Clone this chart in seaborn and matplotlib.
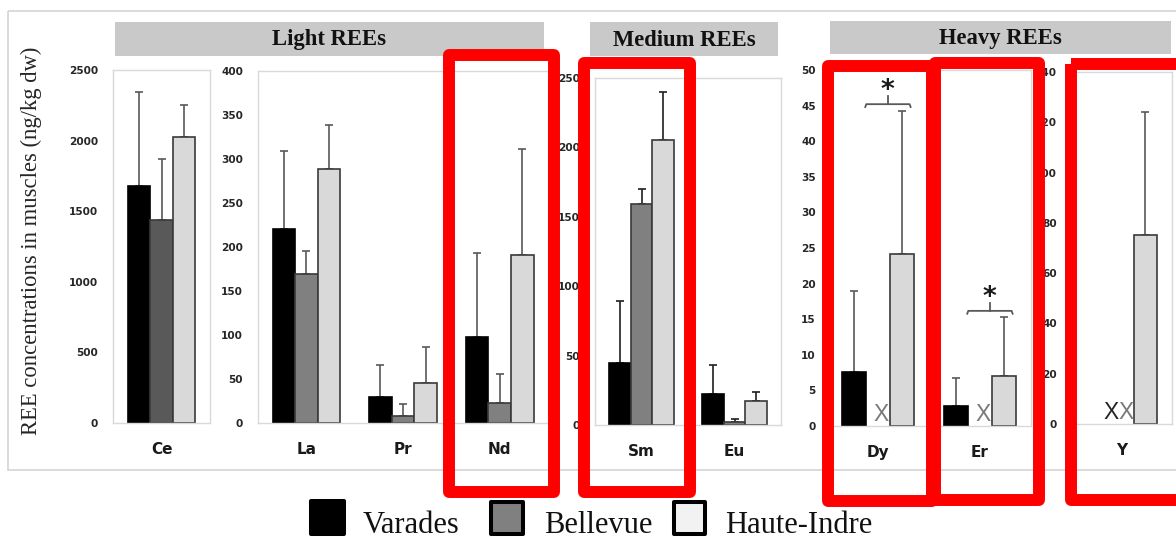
import numpy as np
import pandas as pd
import matplotlib
matplotlib.use("Agg")
import matplotlib.pyplot as plt
import seaborn as sns
from matplotlib.patches import Rectangle

# ---------------- data ----------------
sites = ["Varades", "Bellevue", "Haute-Indre"]
elements = ["Ce", "La", "Pr", "Nd", "Sm", "Eu", "Dy", "Er", "Y"]

varades_mean = [1676, 220, 29, 98, 45, 22, 7.6, 2.75, np.nan]
bellevue_mean = [1436, 169, 8, 23, 159, 2, np.nan, np.nan, np.nan]
haute_mean = [2027, 289, 46, 191, 205, 17, 24.2, 7.07, 75]

varades_sd = [671, 89, 37, 95, 44, 21.5, 11.4, 3.95, np.nan]
bellevue_sd = [431, 27, 14, 33, 11, 2.2, np.nan, np.nan, np.nan]
haute_sd = [226, 50, 40, 120, 35, 7, 20.1, 8.2, 49]

group_names = ["Light REEs", "Medium REEs", "Heavy REEs"]
panel_elements = [["Ce"], ["La", "Pr", "Nd"], ["Sm", "Eu"], ["Dy", "Er"], ["Y"]]
panel_ymax = [2500, 400, 250, 50, 140]
panel_step = [500, 50, 50, 5, 20]
significant = ["Dy", "Er"]
missing_marker = {"Dy": ["Bellevue"], "Er": ["Bellevue"], "Y": ["Varades", "Bellevue"]}

rows = []
for i, el in enumerate(elements):
    for s, m, sd in zip(sites, [varades_mean, bellevue_mean, haute_mean],
                        [varades_sd, bellevue_sd, haute_sd]):
        rows.append(dict(element=el, site=s, value=m[i], sd=sd[i]))
df = pd.DataFrame(rows)

# ---------------- layout ----------------
W, H = 1176, 538
fig = plt.figure(figsize=(W / 100, H / 100), dpi=100)
fig.patch.set_facecolor("white")

def px_rect(x0, y0, x1, y1):
    return [x0 / W, 1 - y1 / H, (x1 - x0) / W, (y1 - y0) / H]

panel_rects = [(113, 70, 210, 423), (258, 71, 548, 423), (595, 78, 781, 425),
               (827, 70, 1031, 426), (1072, 72, 1172, 424)]
panel_ypad = [10.8, 10.8, 10.8, 8.0, 10.8]
panel_ecolor = ["#595959", "#595959", "#1f1f1f", "#595959", "#595959"]

face = {"Varades": "#000000", "Bellevue": "#808080", "Haute-Indre": "#d9d9d9"}
edge = {"Varades": "#000000", "Bellevue": "#3a3a3a", "Haute-Indre": "#3a3a3a"}
marker_col = {"Varades": "#262626", "Bellevue": "#7a7a7a"}
GW = 0.7
bw = GW / 3

axes = []
for k, els in enumerate(panel_elements):
    ax = fig.add_axes(px_rect(*panel_rects[k]))
    axes.append(ax)
    sub = df[df.element.isin(els)].dropna(subset=["value"])
    pal = dict(face)
    if k == 0:
        pal["Bellevue"] = "#595959"
    sns.barplot(data=sub, x="element", y="value", hue="site", order=els,
                hue_order=sites, palette=pal, saturation=1, width=GW,
                dodge=True, errorbar=None, legend=False, ax=ax, linewidth=1.2,
                edgecolor="#3a3a3a")
    xs, ys, es = [], [], []
    for p in list(ax.patches):
        cx = p.get_x() + p.get_width() / 2
        h = p.get_height()
        if not np.isfinite(h):
            continue
        ci = int(round(cx))
        hi = int(round((cx - ci) / bw)) + 1
        site = sites[hi]
        p.set_edgecolor(edge[site])
        p.set_zorder(2)
        row = sub[(sub.element == els[ci]) & (sub.site == site)]
        if len(row):
            xs.append(cx)
            ys.append(h)
            es.append(float(row.sd.iloc[0]))
    ax.errorbar(xs, ys, yerr=[np.zeros(len(es)), es], fmt="none",
                ecolor=panel_ecolor[k], elinewidth=1.2, capsize=2.6,
                capthick=1.2, zorder=1)
    ax.set_xlim(-0.5, len(els) - 0.5)
    ax.set_ylim(0, panel_ymax[k])
    ticks = np.arange(0, panel_ymax[k] + 1, panel_step[k])
    ax.set_yticks(ticks)
    ax.set_yticklabels([str(v) for v in ticks])
    ax.set_xlabel("")
    ax.set_ylabel("")
    ax.tick_params(axis="y", length=0, pad=panel_ypad[k], labelsize=7.6,
                   labelcolor="#262626")
    ax.tick_params(axis="x", length=0, pad=14, labelsize=11, labelcolor="#1a1a1a")
    for lab in ax.get_yticklabels():
        lab.set_fontweight("bold")
        lab.set_family("DejaVu Sans")
    for lab in ax.get_xticklabels():
        lab.set_fontweight("bold")
        lab.set_family("DejaVu Sans")
    for sp in ax.spines.values():
        sp.set_color("#d9d9d9")
        sp.set_linewidth(1.0)
    ax.set_facecolor("white")
    # "X" markers for values below detection
    for ci, el in enumerate(els):
        if el in missing_marker:
            for s in missing_marker[el]:
                if el == "Y":
                    off = -0.11 if s == "Varades" else 0.04
                else:
                    off = 0.03
                ax.text(ci + off, 0, "X", ha="center", va="bottom",
                        color=marker_col[s], fontsize=16.5,
                        family="Liberation Sans", zorder=3)
    # significance brackets
    for ci, el in enumerate(els):
        if el in significant:
            top = float(sub[(sub.element == el)].eval("value + sd").max())
            ymax = panel_ymax[k]
            yb = top + ymax * 0.018
            hook = ymax * 0.008
            x0, x1 = ci - 0.125, ci + 0.32
            xm = (x0 + x1) / 2
            ax.plot([x0, x0 + 0.01, x1 - 0.01, x1],
                    [yb - hook, yb, yb, yb - hook],
                    color="#595959", lw=1.3, solid_joinstyle="round",
                    zorder=3)
            ax.plot([xm, xm], [yb, yb + ymax * 0.022], color="#595959",
                    lw=1.3, zorder=3)
            ax.text(xm - 0.005, yb + ymax * 0.036, "*", ha="center",
                    va="center", fontsize=19, fontweight="bold",
                    family="DejaVu Sans", color="#1a1a1a", zorder=3)

# ---------------- overlay decorations ----------------
ov = fig.add_axes([0, 0, 1, 1])
ov.set_xlim(0, W)
ov.set_ylim(H, 0)
ov.axis("off")
ov.patch.set_alpha(0)

ov.add_patch(Rectangle((8, 11), 1190, 459, fill=False, edgecolor="#d4d4d4",
                       lw=1.2, zorder=0))

header_boxes = [(115, 22, 544, 56), (590, 22, 778, 56), (830, 21, 1171, 54)]
for name, (x0, y0, x1, y1) in zip(group_names, header_boxes):
    ov.add_patch(Rectangle((x0, y0), x1 - x0, y1 - y0, facecolor="#c9c9c9",
                           edgecolor="none", zorder=1))
    ov.text((x0 + x1) / 2, (y0 + y1) / 2 + 1, name, ha="center", va="center",
            fontsize=16.3, fontweight="bold", family="Liberation Serif",
            color="#111111", zorder=2)

ov.text(31, 241, "REE concentrations in muscles (ng/kg dw)", rotation=90,
        ha="center", va="center", fontsize=16.3, family="Liberation Serif",
        color="#262626")

# legend
leg_boxes = [(311, 501, 344, 534), (491, 502, 523, 534), (674, 502, 705, 534)]
leg_fill = ["#000000", "#808080", "#f2f2f2"]
leg_text_x = [363, 544, 725]
for s, (x0, y0, x1, y1), fc, tx in zip(sites, leg_boxes, leg_fill, leg_text_x):
    ov.add_patch(Rectangle((x0, y0), x1 - x0, y1 - y0, facecolor=fc,
                           edgecolor="#000000", lw=2.9, joinstyle="round"))
    ov.text(tx, 533, s, ha="left", va="baseline", fontsize=22,
            family="Liberation Serif", color="#111111")

# red highlight boxes
red_boxes = [(448.5, 55, 554, 492), (584, 63, 689.5, 492), (828, 66, 932, 501),
             (934.5, 63, 1039, 499.5), (1071, 63.5, 1182, 500)]
for (x0, y0, x1, y1) in red_boxes:
    ov.add_patch(Rectangle((x0, y0), x1 - x0, y1 - y0, fill=False,
                           edgecolor="#ff0000", lw=8.6, joinstyle="round",
                           zorder=5))

fig.savefig("out.png", dpi=100)
